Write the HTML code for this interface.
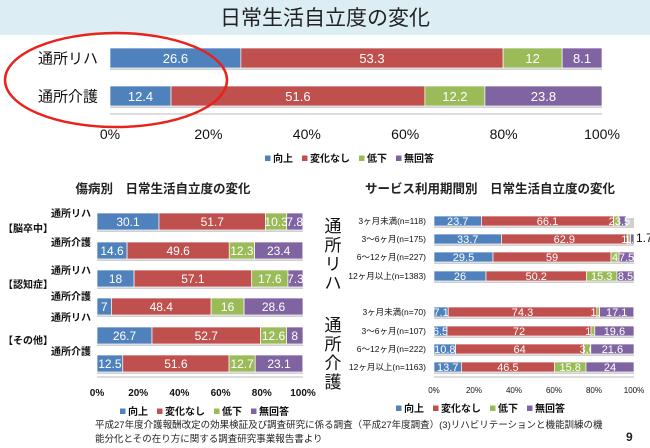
<!DOCTYPE html>
<html><head><meta charset="utf-8">
<style>
body{margin:0;width:650px;height:448px;overflow:hidden;background:#fff;font-family:"Liberation Sans","Noto Sans CJK JP",sans-serif;}
svg{display:block}
</style></head>
<body>
<svg id="c" width="650" height="448" xmlns="http://www.w3.org/2000/svg" font-family="Liberation Sans, Noto Sans CJK JP, sans-serif">
<rect x="0" y="0" width="650" height="35" fill="#dcedf4"/>
<text x="325" y="25" text-anchor="middle" font-size="21" fill="#222">日常生活自立度の変化</text>
<text x="163" y="193" text-anchor="middle" font-size="12.5" font-weight="bold" fill="#222">傷病別　日常生活自立度の変化</text>
<text x="490" y="193" text-anchor="middle" font-size="12.5" font-weight="bold" fill="#222">サービス利用期間別　日常生活自立度の変化</text>
<text x="95" y="428" font-size="9.5" fill="#222">平成27年度介護報酬改定の効果検証及び調査研究に係る調査（平成27年度調査）(3)リハビリテーションと機能訓練の機</text>
<text x="95" y="442" font-size="9.5" fill="#222">能分化とその在り方に関する調査研究事業報告書より</text>
<text x="626" y="441" font-size="12" font-weight="bold" fill="#222">9</text>
</svg>
<script>
const seriesNames=["向上","変化なし","低下","無回答"];
const colors=["#4f81bd","#c0504d","#9bbb59","#8064a2"];
const ticks=["0%","20%","40%","60%","80%","100%"];
const topCats=["通所リハ","通所介護"];
const topVals=[[26.6,53.3,12,8.1],[12.4,51.6,12.2,23.8]];
const leftCats=["通所リハ","通所介護","通所リハ","通所介護","通所リハ","通所介護"];
const leftGroups=["【脳卒中】","【認知症】","【その他】"];
const leftVals=[[30.1,51.7,10.3,7.8],[14.6,49.6,12.3,23.4],[18,57.1,17.6,7.3],[7,48.4,16,28.6],[26.7,52.7,12.6,8],[12.5,51.6,12.7,23.1]];
const rightCats=["3ヶ月未満(n=118)","3～6ヶ月(n=175)","6～12ヶ月(n=227)","12ヶ月以上(n=1383)","3ヶ月未満(n=70)","3～6ヶ月(n=107)","6～12ヶ月(n=222)","12ヶ月以上(n=1163)"];
const rightVals=[[23.7,66.1,2.7,3.5],[33.7,62.9,1.7,1.7],[29.5,59,4,7.5],[26,50.2,15.3,8.5],[7.1,74.3,1.4,17.1],[6.5,72,1.9,19.6],[10.8,64,3.6,21.6],[13.7,46.5,15.8,24]];
const svg=document.getElementById('c');
const NS="http://www.w3.org/2000/svg";
function mk(tag,attrs,txt){const e=document.createElementNS(NS,tag);for(const k in attrs)e.setAttribute(k,attrs[k]);if(txt!==undefined)e.textContent=txt;svg.appendChild(e);return e;}
function chart(p){
 const sx=v=>p.x0+(p.x1-p.x0)*v/100;
 p.vals.forEach((row,i)=>{
  const y=p.ys[i];let acc=0;
  mk('rect',{x:sx(0),y:y+2,width:p.x1-p.x0,height:p.h,fill:'#d0d0d0'});
  row.forEach((v,j)=>{
   const r=mk('rect',{x:sx(acc),y:y,width:sx(acc+v)-sx(acc),height:p.h,fill:colors[j],stroke:'#fff','stroke-width':0.7});
   
   
   const t=mk('text',{x:(sx(acc)+sx(acc+v))/2,y:y+p.h/2+p.fs*0.37,'text-anchor':'middle','font-size':p.fs,fill:'#fff'},String(v));
   
   
   acc+=v;
  });
  const c=mk('text',{x:p.labX,y:p.ys[i]+p.h/2+p.cfs*0.37+(p.labDy?p.labDy[i]:0),'text-anchor':'end','font-size':p.cfs,fill:'#111','font-weight':p.cbold?'bold':'normal'},p.cats[i]);
  
  
 });
 const ax=mk('line',{x1:p.x0,x2:p.x1,y1:p.axY,y2:p.axY,stroke:'#bbb'});
 
 
 ticks.forEach((t,i)=>{
  const e=mk('text',{x:sx(i*20),y:p.tickY,'text-anchor':'middle','font-size':p.tfs,fill:'#111','font-weight':p.cbold?'bold':'normal'},t);
  
  
 });
 let lx=p.legX;
 seriesNames.forEach((s,j)=>{
  const r=mk('rect',{x:lx,y:p.legY-p.lfs*0.65,width:p.lfs*0.55,height:p.lfs*0.55,fill:colors[j]});
  
  
  const t=mk('text',{x:lx+p.lfs*0.8,y:p.legY,'font-size':p.lfs,fill:'#111','font-weight':'bold'},s);
  
  
  lx+=p.lfs*0.8+s.length*p.lfs+p.lfs*0.9;
 });
}
chart({id:'top',x0:110,x1:602,ys:[48,86],h:20,vals:topVals,cats:topCats,labX:98,cfs:15,fs:13,axY:114,tickY:139,tfs:14,legX:265,legY:162,lfs:10});
chart({id:'left',x0:97,x1:303,ys:[213,242,270,298,327,355],h:17,vals:leftVals,cats:leftCats,labX:91,cfs:10,cbold:true,fs:12,labDy:[-8,-8,-8,-10,-18,-12],axY:377,tickY:396,tfs:10,legX:120,legY:415,lfs:10});
chart({id:'right',x0:434,x1:634,ys:[216,234,252,271,307,326,344,362],h:10,vals:rightVals,cats:rightCats,labX:426,cfs:8.5,fs:11,axY:377,tickY:393,tfs:8,legX:396,legY:412,lfs:10});
leftGroups.forEach((g,i)=>{
 const t=mk('text',{x:3,y:[232,288,344][i],'font-size':10,'font-weight':'bold',fill:'#111'},g);
 
 
});
[["通","所","リ","ハ"],["通","所","介","護"]].forEach((arr,g)=>{
 arr.forEach((ch,k)=>{
  const t=mk('text',{x:333,y:(g?331:232)+k*19,'text-anchor':'middle','font-size':17,fill:'#111'},ch);
  
  
 });
});
const o=mk('text',{x:636,y:242,'font-size':12,fill:'#111'},"1.7");


const el=mk('ellipse',{cx:116,cy:80,rx:111,ry:47,fill:'none',stroke:'#e8231c','stroke-width':2.5});


</script>
</body></html>
